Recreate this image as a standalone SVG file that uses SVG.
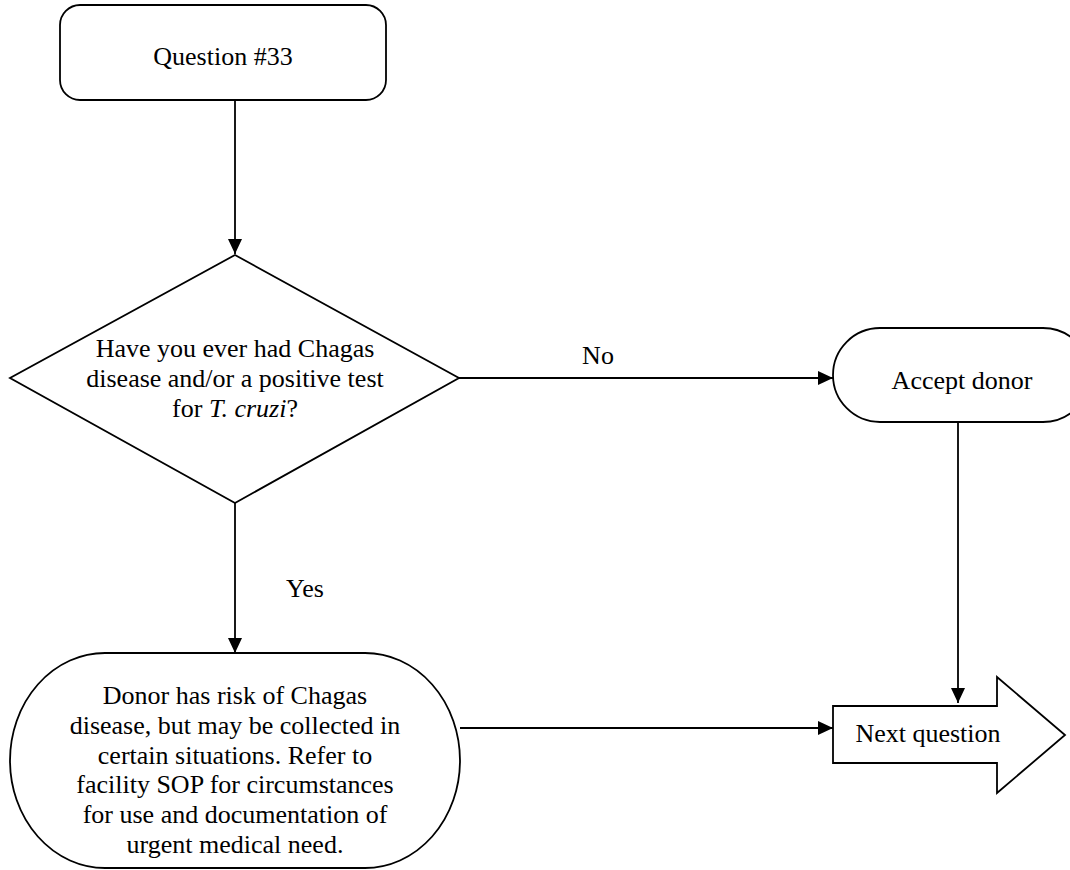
<svg xmlns="http://www.w3.org/2000/svg" width="1070" height="870" viewBox="0 0 1070 870">
<style>
.shape{fill:#fff;stroke:#000;stroke-width:1.8}
.t{font-family:"Liberation Serif","Times New Roman",serif;font-size:26px;fill:#000;text-anchor:middle}
.conn line{stroke:#000;stroke-width:1.8}
</style>
<defs>
<marker id="ah" markerWidth="15" markerHeight="14" refX="15" refY="7" orient="auto" markerUnits="userSpaceOnUse">
<path d="M0,0 L15,7 L0,14 Z" fill="#000"/>
</marker>
</defs>
<rect width="1070" height="870" fill="#fff"/>
<g id="q33">
<rect class="shape" x="60" y="5" width="326" height="95" rx="20" ry="20"/>
<text class="t" x="223" y="65">Question #33</text>
</g>
<g id="decision">
<polygon class="shape" points="235,255 459,378 235,503 10,378"/>
<text class="t" x="235" y="357">Have you ever had Chagas</text>
<text class="t" x="235" y="387">disease and/or a positive test</text>
<text class="t" x="235" y="417">for <tspan font-style="italic">T. cruzi</tspan>?</text>
</g>
<g id="accept">
<rect class="shape" x="833" y="328" width="257" height="94" rx="47" ry="47"/>
<text class="t" x="962" y="389">Accept donor</text>
</g>
<g id="risk">
<rect class="shape" x="10" y="653" width="450" height="215" rx="95" ry="107.5"/>
<text class="t" x="235" y="704">Donor has risk of Chagas</text>
<text class="t" x="235" y="734">disease, but may be collected in</text>
<text class="t" x="235" y="764">certain situations. Refer to</text>
<text class="t" x="235" y="793">facility SOP for circumstances</text>
<text class="t" x="235" y="823">for use and documentation of</text>
<text class="t" x="235" y="853">urgent medical need.</text>
</g>
<g id="next">
<polygon class="shape" points="833,706 997,706 997,677 1065,735 997,793 997,763 833,763"/>
<text class="t" x="928" y="742">Next question</text>
</g>
<g id="connectors" class="conn">
<line x1="235" y1="100" x2="235" y2="254" marker-end="url(#ah)"/>
<line x1="459" y1="378" x2="833" y2="378" marker-end="url(#ah)"/>
<line x1="235" y1="503" x2="235" y2="653" marker-end="url(#ah)"/>
<line x1="958" y1="422" x2="958" y2="703" marker-end="url(#ah)"/>
<line x1="460" y1="728" x2="833" y2="728" marker-end="url(#ah)"/>
<text class="t" x="598" y="364">No</text>
<text class="t" x="305" y="597">Yes</text>
</g>
</svg>
